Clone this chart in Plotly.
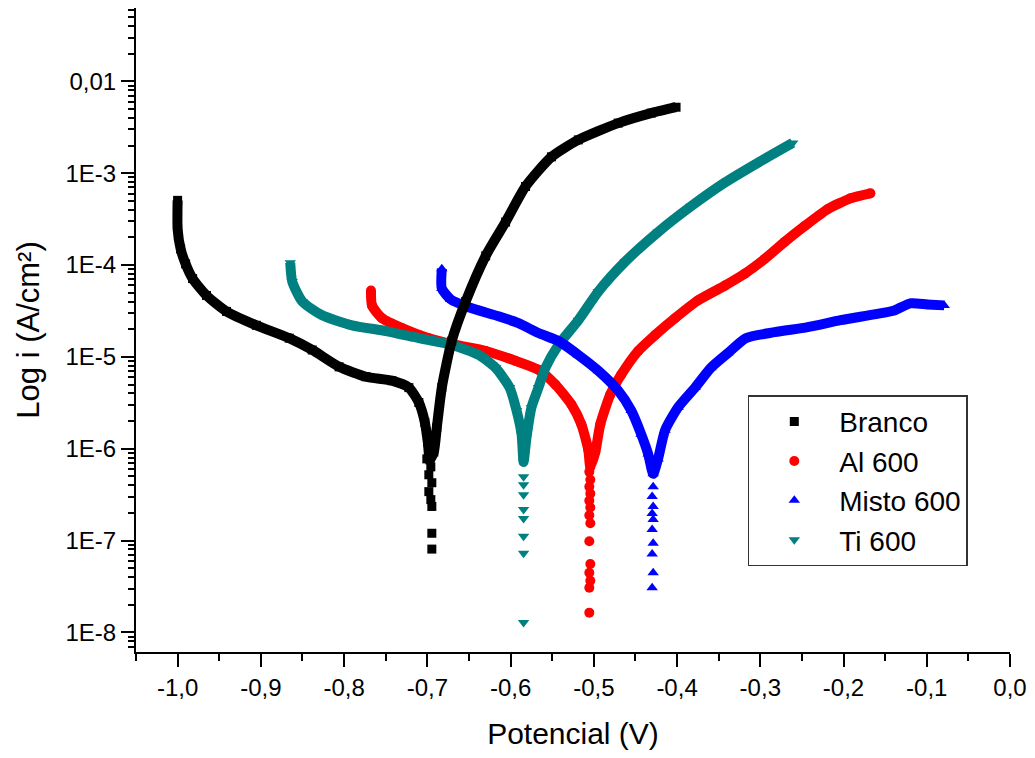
import plotly.graph_objects as go

# ---------------- data ----------------
# Branco (black squares)
branco_v = [-1.0000, -1.0000, -0.9964, -0.9904, -0.9820, -0.9653, -0.9413, -0.9054, -0.8659,
            -0.8383, -0.8060, -0.7737, -0.7425, -0.7222, -0.7102, -0.7030, -0.6994, -0.6970,
            -0.6922, -0.6886, -0.6826, -0.6707, -0.6539, -0.6299, -0.6060, -0.5820, -0.5509,
            -0.5186, -0.4707, -0.4311, -0.4012]
branco_i = [5.07e-4, 2.47e-4, 1.50e-4, 1.03e-4, 7.12e-5, 4.67e-5, 3.13e-5, 2.21e-5, 1.60e-5,
            1.19e-5, 7.80e-6, 6.08e-6, 5.51e-6, 4.63e-6, 3.19e-6, 1.94e-6, 1.18e-6, 7.55e-7,
            9.20e-7, 1.71e-6, 4.63e-6, 1.49e-5, 4.02e-5, 1.26e-4, 2.94e-4, 7.18e-4, 1.51e-3,
            2.31e-3, 3.52e-3, 4.52e-3, 5.24e-3]
branco_tail_v = [-0.7006, -0.6958, -0.6982, -0.6946, -0.6982, -0.6958, -0.6946, -0.6946, -0.6946]
branco_tail_i = [7.75e-7, 6.34e-7, 5.20e-7, 4.26e-7, 3.41e-7, 2.79e-7, 2.35e-7, 1.20e-7, 8.07e-8]

# Al 600 (red circles)
al_v = [-0.7677, -0.7665, -0.7545, -0.7305, -0.6982, -0.6659, -0.6299, -0.5940, -0.5665,
        -0.5461, -0.5269, -0.5150, -0.5066, -0.5042,
        -0.4982, -0.4922, -0.4802, -0.4671, -0.4467, -0.4263, -0.4024, -0.3749, -0.3425,
        -0.3186, -0.2946, -0.2707, -0.2467, -0.2192, -0.1916, -0.1677]
al_i = [5.29e-5, 3.64e-5, 2.64e-5, 2.06e-5, 1.60e-5, 1.35e-5, 1.16e-5, 9.06e-6, 7.24e-6,
        4.99e-6, 3.03e-6, 1.85e-6, 9.68e-7, 6.34e-7,
        9.20e-7, 1.85e-6, 3.89e-6, 6.40e-6, 1.16e-5, 1.73e-5, 2.64e-5, 4.12e-5, 5.98e-5,
        8.07e-5, 1.17e-4, 1.79e-4, 2.66e-4, 4.06e-4, 5.33e-4, 6.04e-4]
al_tail_v = [-0.5054, -0.5042, -0.5054, -0.5042, -0.5054, -0.5042, -0.5054, -0.5042, -0.5054,
             -0.5042, -0.5054, -0.5042, -0.5054, -0.5054]
al_tail_i = [5.60e-7, 4.59e-7, 3.86e-7, 3.24e-7, 2.72e-7, 2.29e-7, 1.88e-7, 1.54e-7, 9.84e-8,
             5.56e-8, 4.45e-8, 3.64e-8, 3.06e-8, 1.64e-8]

# Misto 600 (blue up-triangles)
misto_v = [-0.6826, -0.6826, -0.6719, -0.6503, -0.6144, -0.5904, -0.5665, -0.5425, -0.5186,
           -0.4946, -0.4707, -0.4551, -0.4431, -0.4347, -0.4287,
           -0.4228, -0.4144, -0.3988, -0.3784, -0.3593, -0.3389, -0.3174, -0.2826, -0.2431,
           -0.2036, -0.1629, -0.1389, -0.1198, -0.0994, -0.0790]
misto_i = [9.14e-5, 5.56e-5, 4.23e-5, 3.47e-5, 2.77e-5, 2.33e-5, 1.82e-5, 1.49e-5, 1.05e-5,
           7.06e-6, 4.29e-6, 2.61e-6, 1.44e-6, 8.77e-7, 5.33e-7,
           7.75e-7, 1.59e-6, 2.82e-6, 4.63e-6, 7.62e-6, 1.10e-5, 1.60e-5, 1.86e-5, 2.11e-5,
           2.51e-5, 2.91e-5, 3.21e-5, 3.83e-5, 3.73e-5, 3.64e-5]
misto_tail_v = [-0.4287, -0.4299, -0.4287, -0.4299, -0.4287, -0.4299, -0.4287, -0.4299, -0.4287, -0.4299]
misto_tail_i = [3.86e-7, 3.01e-7, 2.35e-7, 1.97e-7, 1.70e-7, 1.32e-7, 9.35e-8, 7.13e-8, 4.45e-8, 3.06e-8]

# Ti 600 (teal down-triangles)
ti_v = [-0.8647, -0.8623, -0.8503, -0.8263, -0.7904, -0.7497, -0.7102, -0.6707, -0.6383,
        -0.6180, -0.6012, -0.5928, -0.5868, -0.5844,
        -0.5808, -0.5749, -0.5665, -0.5581, -0.5425, -0.5186, -0.4946, -0.4623, -0.4228,
        -0.3832, -0.3425, -0.3030, -0.2611]
ti_i = [1.06e-4, 6.61e-5, 4.02e-5, 2.84e-5, 2.21e-5, 1.91e-5, 1.60e-5, 1.35e-5, 1.05e-5,
        7.61e-6, 4.63e-6, 2.61e-6, 1.44e-6, 7.18e-7,
        1.34e-6, 2.82e-6, 4.63e-6, 7.61e-6, 1.35e-5, 2.51e-5, 5.15e-5, 1.09e-4, 2.29e-4,
        4.37e-4, 7.93e-4, 1.30e-3, 2.14e-3]
ti_tail_v = [-0.5844, -0.5844, -0.5844, -0.5844, -0.5844, -0.5844, -0.5844, -0.5844]
ti_tail_i = [4.94e-7, 4.05e-7, 3.16e-7, 2.18e-7, 1.74e-7, 1.11e-7, 7.29e-8, 1.28e-8]

x_tickvals = [-1.0, -0.9, -0.8, -0.7, -0.6, -0.5, -0.4, -0.3, -0.2, -0.1, 0.0]
x_ticktext = ["-1,0", "-0,9", "-0,8", "-0,7", "-0,6", "-0,5", "-0,4", "-0,3", "-0,2", "-0,1", "0,0"]
y_tickvals = [1e-2, 1e-3, 1e-4, 1e-5, 1e-6, 1e-7, 1e-8]
y_ticktext = ["0,01", "1E-3", "1E-4", "1E-5", "1E-6", "1E-7", "1E-8"]
y_minor = [m * 10.0 ** e for e in range(-9, -1) for m in range(2, 10)]

series = [
    ("Al 600", al_v, al_i, al_tail_v, al_tail_i, "#FF0000", "circle", 2),
    ("Ti 600", ti_v, ti_i, ti_tail_v, ti_tail_i, "#008080", "triangle-down", 4),
    ("Misto 600", misto_v, misto_i, misto_tail_v, misto_tail_i, "#0000FF", "triangle-up", 3),
    ("Branco", branco_v, branco_i, branco_tail_v, branco_tail_i, "#000000", "square", 1),
]

FONT = "Liberation Sans, Arial, sans-serif"
fig = go.Figure()
for name, v, i, tv, ti, color, sym, rank in series:
    fig.add_trace(go.Scatter(x=v, y=i, mode="lines",
                             line=dict(color=color, width=10, shape="spline", smoothing=0.6),
                             showlegend=False, hoverinfo="skip", legendgroup=name))
    fig.add_trace(go.Scatter(x=v + tv, y=i + ti, mode="markers", name=name, legendgroup=name,
                             legendrank=rank,
                             marker=dict(color=color, symbol=sym, size=10 if sym != "square" else 9,
                                         line=dict(width=0))))

# the page body has an 8px margin, so the figure is drawn 8px right/down
fig.update_layout(
    width=1019, height=742,
    margin=dict(l=128, r=16, t=0, b=93),
    paper_bgcolor="white", plot_bgcolor="white",
    font=dict(family=FONT, color="black", size=24),
    legend=dict(x=0.70, y=0.3985, xanchor="left", yanchor="top",
                bgcolor="white", bordercolor="#333333", borderwidth=1.5,
                font=dict(size=28, family=FONT), itemwidth=80, tracegroupgap=0,
                entrywidth=145, entrywidthmode="pixels"),
)
fig.update_xaxes(
    range=[-1.05, 0.0], showgrid=False, zeroline=False,
    showline=True, linecolor="black", linewidth=2,
    tickmode="array", tickvals=x_tickvals, ticktext=x_ticktext,
    ticks="outside", ticklen=13, tickwidth=2, tickcolor="black",
    ticklabeloverflow="allow",
    minor=dict(ticks="outside", ticklen=7, tickwidth=2, tickcolor="black", dtick=0.05, tick0=0, showgrid=False),
    tickfont=dict(size=24, family=FONT),
    title=dict(text="Potencial (V)", font=dict(size=30, family=FONT), standoff=28),
)
fig.update_yaxes(
    type="log", range=[-8.214, -1.20], showgrid=False, zeroline=False,
    showline=True, linecolor="black", linewidth=2,
    tickmode="array", tickvals=y_tickvals, ticktext=y_ticktext,
    ticks="outside", ticklen=13, tickwidth=2, tickcolor="black",
    minor=dict(ticks="outside", ticklen=6, tickwidth=1.5, tickcolor="black",
               tickmode="array", tickvals=y_minor, showgrid=False),
    tickfont=dict(size=24, family=FONT),
    title=dict(text="Log i (A/cm²)", font=dict(size=31, family=FONT), standoff=17),
)

fig.write_html("out.html")
